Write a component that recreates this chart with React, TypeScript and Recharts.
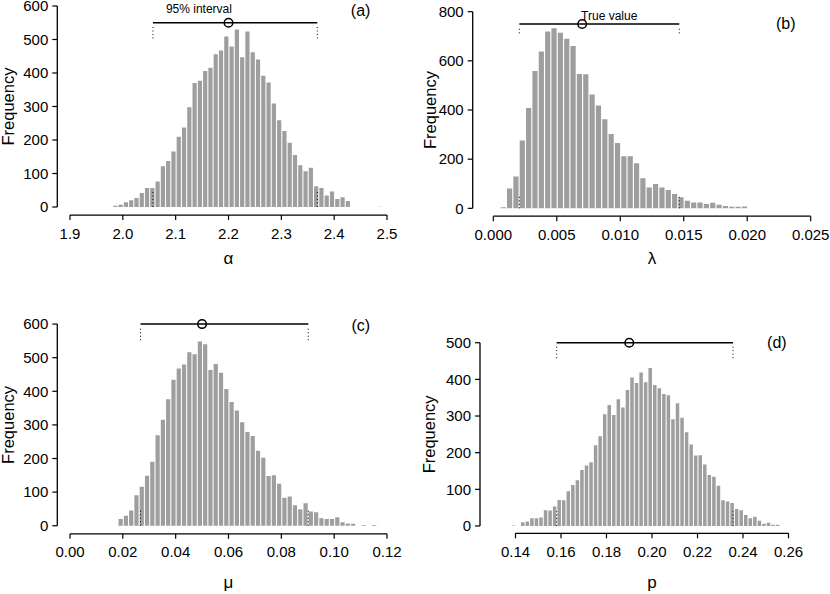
import React from 'react';
import { ComposedChart, Bar, XAxis, YAxis, ReferenceLine, ReferenceDot } from 'recharts';

// ---------------- data ----------------
// (a) alpha
const alphaBinStart = 1.98;
const alphaBinWidth = 0.01;
const alphaCounts = [4, 7, 14, 20, 27, 42, 57, 57, 76, 122, 137, 166, 210, 237, 298, 370, 377, 406, 416, 456, 467, 509, 479, 530, 447, 524, 462, 440, 392, 372, 309, 259, 227, 192, 155, 125, 107, 117, 62, 57, 34, 46, 24, 29, 18, 0, 0, 0, 0, 0, 1];
const alphaTicks = [1.9, 2.0, 2.1, 2.2, 2.3, 2.4, 2.5];
const alphaFreqTicks = [0, 100, 200, 300, 400, 500, 600];
const alphaInterval = [2.057, 2.368];
const alphaTrue = 2.2;

// (b) lambda
const lambdaBinStart = 0.0005;
const lambdaBinWidth = 0.0005;
const lambdaCounts = [4, 81, 130, 276, 408, 559, 638, 719, 733, 714, 690, 660, 546, 545, 463, 418, 362, 302, 266, 212, 212, 183, 122, 85, 99, 85, 75, 58, 45, 31, 24, 24, 18, 23, 15, 9, 6, 6, 7];
const lambdaTicks = [0, 0.005, 0.01, 0.015, 0.02, 0.025];
const lambdaFreqTicks = [0, 200, 400, 600, 800];
const lambdaInterval = [0.00205, 0.01465];
const lambdaTrue = 0.007;

// (c) mu
const muBinStart = 0.018;
const muBinWidth = 0.002;
const muCounts = [20, 30, 45, 91, 116, 149, 190, 269, 315, 376, 434, 468, 480, 516, 510, 548, 540, 463, 481, 455, 407, 368, 343, 308, 279, 267, 223, 202, 148, 150, 125, 83, 87, 61, 49, 67, 42, 40, 22, 20, 20, 25, 10, 7, 6, 0, 2, 0, 2];
const muTicks = [0, 0.02, 0.04, 0.06, 0.08, 0.1, 0.12];
const muFreqTicks = [0, 100, 200, 300, 400, 500, 600];
const muInterval = [0.0267, 0.0902];
const muTrue = 0.05;

// (d) p
const pBinStart = 0.138;
const pBinWidth = 0.002;
const pCounts = [1, 0, 10, 12, 21, 21, 23, 43, 42, 53, 71, 70, 95, 112, 125, 153, 165, 174, 220, 245, 305, 330, 303, 346, 323, 371, 405, 390, 419, 392, 431, 385, 376, 360, 357, 291, 335, 295, 256, 222, 192, 193, 168, 139, 134, 110, 70, 67, 63, 46, 43, 30, 21, 25, 14, 6, 9, 3, 3];
const pTicks = [0.14, 0.16, 0.18, 0.2, 0.22, 0.24, 0.26];
const pFreqTicks = [0, 100, 200, 300, 400, 500];
const pInterval = [0.1581, 0.2356];
const pTrue = 0.19;

// ---------------- helpers ----------------
function makeBins(start: number, width: number, counts: number[]) {
  return counts.map((c, i) => ({ x: +(start + (i + 0.5) * width).toFixed(7), y: c }));
}

const FONT = '"Liberation Sans", Arial, Helvetica, sans-serif';
const INK = '#000';
const BAR = '#9e9e9e';

type PanelCfg = {
  id: string;
  box: { left: number; top: number; width: number; height: number };
  plot: { L: number; R: number; T: number; B: number };
  xDomain: [number, number];
  yDomain: [number, number];
  data: { x: number; y: number }[];
  barSize: number;
  xTicks: number[];
  xDec: number;
  yTicks: number[];
  xTitle: string;
  freqX: number;
  titleY: number;
  interval: number[];
  trueVal: number;
  lineY: number;
  dotsTop: [number, number];
  dotsBottom: [number, number];
  tag: string;
  tagAt: [number, number];
  note?: string;
  noteAt?: [number, number];
};

const panels: PanelCfg[] = [
  {
    id: 'a',
    box: { left: -60, top: -20, width: 480, height: 330 },
    plot: { L: 57.3, R: 399.7, T: -2.04, B: 215.04 },
    xDomain: [1.876, 2.524],
    yDomain: [-24, 624],
    data: makeBins(alphaBinStart, alphaBinWidth, alphaCounts),
    barSize: 4.2,
    xTicks: alphaTicks,
    xDec: 1,
    yTicks: alphaFreqTicks,
    xTitle: 'α',
    freqX: 8,
    titleY: 257.5,
    interval: alphaInterval,
    trueVal: alphaTrue,
    lineY: 550,
    dotsTop: [503, 540],
    dotsBottom: [0, 45],
    tag: '(a)',
    tagAt: [2.45, 588],
    note: '95% interval',
    noteAt: [2.144, 591],
  },
  {
    id: 'b',
    box: { left: 355, top: -20, width: 500, height: 330 },
    plot: { L: 472.7, R: 831.3, T: 3.8, B: 216.2 },
    xDomain: [-0.001623, 0.026623],
    yDomain: [-32, 832],
    data: makeBins(lambdaBinStart, lambdaBinWidth, lambdaCounts),
    barSize: 5.2,
    xTicks: lambdaTicks,
    xDec: 3,
    yTicks: lambdaFreqTicks,
    xTitle: 'λ',
    freqX: 430,
    titleY: 257.5,
    interval: lambdaInterval,
    trueVal: lambdaTrue,
    lineY: 750,
    dotsTop: [712, 735],
    dotsBottom: [0, 50],
    tag: '(b)',
    tagAt: [0.02304, 754],
    note: 'True value',
    noteAt: [0.00913, 784],
  },
  {
    id: 'c',
    box: { left: -60, top: 280, width: 480, height: 360 },
    plot: { L: 57.3, R: 399.7, T: 316.0, B: 533.8 },
    xDomain: [-0.0048, 0.1248],
    yDomain: [-24, 624],
    data: makeBins(muBinStart, muBinWidth, muCounts),
    barSize: 4.2,
    xTicks: muTicks,
    xDec: 2,
    yTicks: muFreqTicks,
    xTitle: 'μ',
    freqX: 8,
    titleY: 582,
    interval: muInterval,
    trueVal: muTrue,
    lineY: 600,
    dotsTop: [552, 588],
    dotsBottom: [0, 45],
    tag: '(c)',
    tagAt: [0.1101, 597],
  },
  {
    id: 'd',
    box: { left: 355, top: 280, width: 500, height: 360 },
    plot: { L: 480, R: 824, T: 335.4, B: 533.3 },
    xDomain: [0.1244, 0.2756],
    yDomain: [-20, 520],
    data: makeBins(pBinStart, pBinWidth, pCounts),
    barSize: 3.5,
    xTicks: pTicks,
    xDec: 2,
    yTicks: pFreqTicks,
    xTitle: 'p',
    freqX: 429,
    titleY: 582,
    interval: pInterval,
    trueVal: pTrue,
    lineY: 500,
    dotsTop: [458, 490],
    dotsBottom: [0, 40],
    tag: '(d)',
    tagAt: [0.2549, 500],
  },
];

function Panel({ cfg }: { cfg: PanelCfg }) {
  const { box, plot } = cfg;
  const wY = 2 * (plot.L - cfg.freqX);
  const hX = 2 * (cfg.titleY - plot.B);
  const margin = {
    left: plot.L - box.left - wY,
    right: box.left + box.width - plot.R,
    top: plot.T - box.top,
    bottom: box.top + box.height - plot.B - hX,
  };
  const x0 = cfg.xTicks[0];
  const x1 = cfg.xTicks[cfg.xTicks.length - 1];
  const y0 = cfg.yTicks[0];
  const y1 = cfg.yTicks[cfg.yTicks.length - 1];
  const [lo, hi] = cfg.interval;
  const dotted = { stroke: INK, strokeWidth: 1, strokeDasharray: '1 2.5' };

  return (
    <div style={{ position: 'absolute', left: box.left, top: box.top, width: box.width, height: box.height }}>
      <ComposedChart width={box.width} height={box.height} data={cfg.data} margin={margin}>
        <XAxis
          dataKey="x"
          type="number"
          domain={cfg.xDomain}
          allowDataOverflow
          ticks={cfg.xTicks}
          interval={0}
          tickFormatter={(v: number) => v.toFixed(cfg.xDec)}
          axisLine={false}
          tickLine={{ stroke: INK, strokeWidth: 1.2 }}
          tickSize={5}
          tickMargin={8}
          tick={{ fill: INK, fontSize: 15, fontFamily: FONT }}
          height={hX}
          label={{ value: cfg.xTitle, position: 'center', fontSize: 17, fill: INK, fontFamily: FONT }}
        />
        <YAxis
          type="number"
          domain={cfg.yDomain}
          allowDataOverflow
          ticks={cfg.yTicks}
          interval={0}
          axisLine={false}
          tickLine={{ stroke: INK, strokeWidth: 1.2 }}
          tickSize={5}
          tickMargin={4}
          tick={{ fill: INK, fontSize: 15, fontFamily: FONT }}
          width={wY}
          label={{ value: 'Frequency', angle: -90, position: 'center', fontSize: 16.5, fill: INK, fontFamily: FONT }}
        />
        <Bar dataKey="y" fill={BAR} barSize={cfg.barSize} isAnimationActive={false} />
        {/* axis lines (R style: x axis from first to last tick, y axis from 0 to max tick) */}
        <ReferenceLine segment={[{ x: x0, y: cfg.yDomain[0] }, { x: x1, y: cfg.yDomain[0] }]} stroke={INK} strokeWidth={1.3} ifOverflow="visible" />
        <ReferenceLine segment={[{ x: cfg.xDomain[0], y: y0 }, { x: cfg.xDomain[0], y: y1 }]} stroke={INK} strokeWidth={1.3} ifOverflow="visible" />
        {/* interval */}
        <ReferenceLine segment={[{ x: lo, y: cfg.lineY }, { x: hi, y: cfg.lineY }]} stroke={INK} strokeWidth={1.5} ifOverflow="visible" />
        <ReferenceLine segment={[{ x: lo, y: cfg.dotsTop[0] }, { x: lo, y: cfg.dotsTop[1] }]} {...dotted} ifOverflow="visible" />
        <ReferenceLine segment={[{ x: hi, y: cfg.dotsTop[0] }, { x: hi, y: cfg.dotsTop[1] }]} {...dotted} ifOverflow="visible" />
        <ReferenceLine segment={[{ x: lo, y: cfg.dotsBottom[0] }, { x: lo, y: cfg.dotsBottom[1] }]} {...dotted} ifOverflow="visible" />
        <ReferenceLine segment={[{ x: hi, y: cfg.dotsBottom[0] }, { x: hi, y: cfg.dotsBottom[1] }]} {...dotted} ifOverflow="visible" />
        <ReferenceDot x={cfg.trueVal} y={cfg.lineY} r={4.3} fill="none" stroke={INK} strokeWidth={1.5} ifOverflow="visible" />
        <ReferenceDot
          x={cfg.tagAt[0]}
          y={cfg.tagAt[1]}
          r={0}
          fill="none"
          stroke="none"
          ifOverflow="visible"
          label={{ value: cfg.tag, position: 'center', fontSize: 16, fill: INK, fontFamily: FONT }}
        />
        {cfg.note && cfg.noteAt ? (
          <ReferenceDot
            x={cfg.noteAt[0]}
            y={cfg.noteAt[1]}
            r={0}
            fill="none"
            stroke="none"
            ifOverflow="visible"
            label={{ value: cfg.note, position: 'center', fontSize: 12, fill: INK, fontFamily: FONT }}
          />
        ) : null}
      </ComposedChart>
    </div>
  );
}

export default function App() {
  return (
    <div
      style={{
        position: 'absolute',
        left: 0,
        top: 0,
        width: 830,
        height: 594,
        overflow: 'hidden',
        background: '#fff',
        fontFamily: FONT,
      }}
    >
      {panels.map((p) => (
        <Panel key={p.id} cfg={p} />
      ))}
    </div>
  );
}
